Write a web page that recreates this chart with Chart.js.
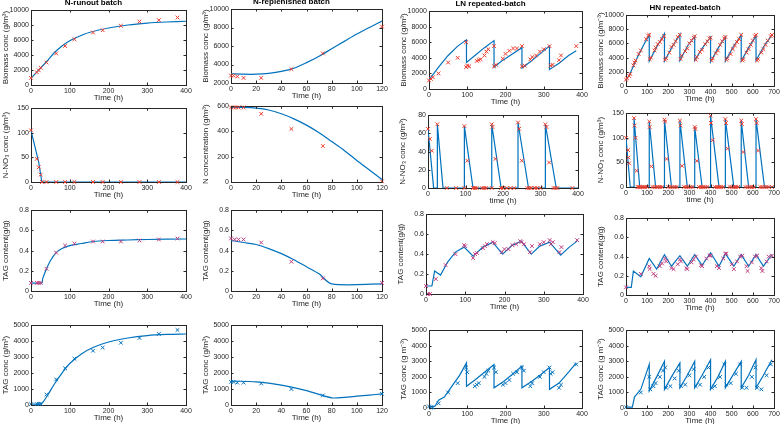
<!DOCTYPE html>
<html>
<head>
<meta charset="utf-8">
<script src="https://cdn.jsdelivr.net/npm/chart.js@4"></script>
<style>
  body { margin: 0; background: #fff; width: 784px; height: 424px; position: relative; overflow: hidden; }
  canvas { position: absolute; }
</style>
</head>
<body>
<script>
// ---- N-runout batch ----
const runoutBiomassModel = [[0,900],[20,2000],[40,3100],[60,4300],[80,5200],[100,5900],[120,6400],[150,7000],[200,7600],[250,8000],[300,8250],[350,8400],[400,8500]];
const runoutBiomassObs = [[0,950],[15,1700],[20,1950],[25,2300],[40,3000],[65,4200],[88,5200],[112,6100],[160,7000],[185,7300],[232,7900],[280,8450],[330,8650],[378,9000]];
const runoutNitrateModel = [[0,105],[20,40],[28,0],[400,0]];
const runoutNitrateObs = [[0,105],[15,47],[20,30],[25,15],[28,0],[40,0],[65,0],[88,0],[112,0],[160,0],[185,0],[232,0],[280,0],[330,0],[378,0]];
const runoutTagContentModel = [[0,0.08],[28,0.08],[30,0.12],[40,0.22],[50,0.3],[65,0.38],[80,0.42],[100,0.45],[130,0.47],[160,0.49],[200,0.5],[250,0.505],[300,0.51],[400,0.515]];
const runoutTagContentObs = [[0,0.08],[15,0.08],[20,0.08],[25,0.08],[40,0.22],[65,0.38],[88,0.45],[112,0.47],[160,0.49],[185,0.49],[232,0.49],[280,0.5],[330,0.51],[378,0.52]];
const runoutTagConcModel = [[0,50],[25,60],[30,150],[40,500],[60,1300],[80,2000],[100,2600],[130,3200],[160,3600],[200,3950],[250,4200],[300,4350],[350,4420],[400,4450]];
const runoutTagConcObs = [[0,50],[15,60],[20,70],[25,80],[40,650],[65,1600],[88,2300],[112,2900],[160,3400],[185,3600],[232,3900],[280,4200],[330,4450],[378,4700]];

// ---- N-replenished batch ----
const replBiomassModel = [[0,3000],[10,2950],[20,2950],[30,3050],[40,3250],[50,3600],[60,4200],[70,4900],[80,5700],[90,6500],[100,7300],[110,8000],[120,8700]];
const replBiomassObs = [[0,2800],[2,2800],[5,2700],[10,2550],[24,2550],[48,3500],[73,5200],[120,8100]];
const replNitrogenModel = [[0,590],[10,590],[20,585],[30,570],[40,540],[50,500],[60,450],[70,390],[80,320],[90,250],[100,170],[110,95],[120,20]];
const replNitrogenObs = [[0,590],[2,590],[4,590],[6,590],[10,590],[24,540],[48,420],[73,285],[120,5]];
const replTagContentModel = [[0,0.5],[10,0.48],[20,0.46],[30,0.42],[40,0.37],[50,0.31],[60,0.24],[70,0.17],[80,0.07],[120,0.07]];
const replTagContentObs = [[0,0.52],[3,0.51],[6,0.51],[10,0.51],[24,0.48],[48,0.29],[73,0.125],[120,0.08]];
const replTagConcModel = [[0,1500],[20,1450],[40,1250],[60,900],[80,450],[90,480],[100,550],[110,620],[120,700]];
const replTagConcObs = [[0,1450],[2,1450],[5,1400],[10,1400],[24,1350],[48,1000],[73,600],[120,700]];

// ---- LN repeated-batch ----
const lnBiomassModel = [[0,1200],[25,2800],[50,4300],[75,5500],[98,6300],[98,3400],[120,4300],[145,5300],[170,6200],[170,2800],[190,3600],[215,4400],[243,5300],[243,2700],[265,3500],[290,4500],[315,5500],[315,2500],[340,3300],[365,4300],[385,4900]];
const lnBiomassObs = [[0,1100],[5,1300],[10,1500],[25,2000],[50,3400],[75,4000],[97,6000],[97,2800],[100,3000],[105,2900],[125,3600],[130,3700],[135,3800],[145,4300],[150,4800],[155,5100],[170,5500],[170,2900],[175,3100],[193,3900],[200,4500],[210,4900],[220,5200],[230,5200],[243,5500],[243,2900],[250,3000],[265,3800],[270,4100],[280,4300],[290,4800],[300,5100],[315,5500],[318,3000],[323,3100],[340,3700],[345,4300],[385,5500]];
const lnNitrateModel = [[0,65],[15,0],[25,0],[25,70],[40,0],[97,0],[97,68],[120,0],[170,0],[170,70],[195,0],[240,0],[240,72],[268,0],[313,0],[313,70],[342,0],[400,0]];
const lnNitrateObs = [[0,65],[5,54],[10,41],[25,70],[50,0],[75,0],[97,68],[97,0],[105,30],[120,0],[125,0],[130,0],[145,0],[150,0],[155,0],[170,70],[172,67],[170,0],[180,32],[195,0],[200,0],[210,0],[220,0],[230,0],[240,72],[243,65],[250,30],[265,0],[270,0],[275,0],[285,0],[290,0],[300,0],[313,70],[316,67],[323,28],[335,0],[340,0],[345,0],[385,0]];
const lnTagContentModel = [[0,0.08],[15,0.08],[22,0.23],[37,0.19],[55,0.32],[75,0.42],[97,0.47],[120,0.38],[145,0.47],[170,0.52],[195,0.4],[220,0.49],[243,0.53],[268,0.4],[290,0.48],[315,0.52],[343,0.39],[365,0.47],[385,0.53]];
const lnTagContentObs = [[0,0.08],[5,0],[10,0],[25,0.15],[50,0.29],[75,0.4],[97,0.49],[100,0.48],[120,0.36],[125,0.4],[130,0.41],[145,0.46],[150,0.48],[155,0.5],[170,0.52],[175,0.51],[193,0.42],[200,0.45],[210,0.45],[220,0.49],[230,0.5],[240,0.53],[243,0.52],[250,0.5],[265,0.42],[270,0.48],[290,0.5],[300,0.52],[315,0.54],[318,0.5],[323,0.52],[340,0.42],[345,0.47],[385,0.54]];
const lnTagConcModel = [[0,100],[15,100],[25,500],[40,700],[60,1400],[80,2100],[98,2900],[98,1400],[120,1800],[145,2300],[170,2800],[170,1300],[195,1700],[220,2200],[243,2700],[243,1300],[268,1700],[290,2100],[315,2600],[315,1200],[340,1600],[365,2300],[385,2900]];
const lnTagConcObs = [[0,100],[5,30],[10,30],[25,300],[50,1000],[75,1600],[97,2600],[100,2300],[120,1400],[125,1500],[130,1600],[145,2000],[150,2200],[155,2400],[170,2600],[175,2300],[193,1500],[200,1600],[210,1800],[220,2200],[230,2300],[243,2600],[248,2400],[265,1400],[270,1600],[290,2000],[300,2300],[315,2600],[318,2200],[323,2300],[340,1300],[345,1500],[385,2800]];

// ---- HN repeated-batch ----
const hnBiomassModel = [[0,800],[20,1800],[50,3800],[80,5600],[110,7200],[110,3500],[145,5500],[182,7400],[182,3500],[220,5600],[255,7300],[255,3600],[290,5600],[325,7000],[325,3600],[360,5300],[400,6900],[400,3400],[435,5300],[470,6900],[470,3500],[505,5400],[545,7200],[545,3500],[580,5400],[615,7100],[615,3600],[650,5500],[690,7200]];
const hnBiomassObs = [[0,900],[5,1100],[15,1400],[20,1700],[35,2900],[40,3300],[45,3600],[60,4500],[70,5000],[95,6600],[105,7100],[110,7200],
  [112,3800],[118,4000],[135,5000],[140,5400],[150,5900],[160,6200],[170,6600],[180,7000],
  [185,3700],[190,3900],[205,4700],[215,5500],[225,5800],[235,6300],[245,6900],[255,7200],
  [258,3800],[263,4300],[280,4900],[290,5300],[300,6000],[310,6400],[320,6800],[325,7000],
  [330,3700],[335,4100],[350,4800],[360,5100],[375,5900],[385,6300],[395,6700],[400,6800],
  [405,3600],[410,3900],[425,4600],[435,5000],[445,5800],[455,6300],[465,6700],[470,6900],
  [475,3700],[480,3900],[495,4500],[505,5200],[515,5700],[525,6200],[535,6600],[545,7200],
  [550,3600],[555,3800],[570,4700],[580,5200],[590,5800],[600,6400],[610,7000],[615,7200],
  [620,3600],[625,3800],[640,4700],[650,5200],[660,5800],[670,6400],[685,7000],[690,7200]];
const hnNitrateModel = [[0,100],[20,0],[38,0],[38,140],[65,0],[110,0],[110,133],[140,0],[182,0],[182,137],[215,0],[255,0],[255,135],[290,0],[325,0],[325,122],[360,0],[400,0],[400,145],[440,0],[470,0],[470,138],[510,0],[545,0],[545,135],[580,0],[615,0],[615,138],[655,0],[700,0]];
const hnNitrateObs = [[0,100],[10,75],[12,60],[15,48],[38,140],[40,125],[45,100],[50,33],[55,0],[60,0],[65,0],[70,0],[80,0],[90,0],[100,0],
  [110,133],[112,122],[120,42],[125,0],[135,0],[145,0],[150,0],[160,0],[170,0],
  [182,137],[185,133],[192,57],[200,0],[210,0],[220,0],[230,0],[240,0],
  [255,135],[258,125],[265,43],[275,0],[285,0],[295,0],[305,0],[315,0],
  [325,122],[328,118],[335,53],[345,0],[355,0],[365,0],[375,0],[385,0],
  [400,145],[402,130],[410,95],[420,0],[430,0],[440,0],[450,0],[460,0],
  [470,138],[473,130],[480,78],[490,0],[500,0],[510,0],[520,0],[530,0],
  [545,135],[548,128],[555,71],[565,0],[575,0],[585,0],[595,0],[605,0],
  [615,138],[618,130],[625,74],[635,0],[645,0],[655,0],[665,0],[675,0],[690,0]];
const hnTagContentModel = [[0,0.08],[25,0.08],[35,0.25],[70,0.19],[110,0.38],[145,0.27],[182,0.42],[215,0.3],[255,0.41],[290,0.3],[325,0.42],[360,0.31],[400,0.44],[440,0.3],[470,0.43],[510,0.3],[545,0.42],[580,0.3],[615,0.42],[650,0.3],[690,0.42]];
const hnTagContentObs = [[0,0.08],[70,0.22],[110,0.3],[112,0.27],[130,0.22],[140,0.2],[160,0.3],[170,0.33],[185,0.38],[190,0.35],[215,0.28],[225,0.27],[245,0.32],[255,0.37],[260,0.35],[285,0.28],[290,0.27],[310,0.34],[320,0.37],[330,0.4],[355,0.31],[360,0.3],[380,0.38],[395,0.41],[400,0.41],[430,0.3],[440,0.28],[460,0.38],[470,0.43],[475,0.43],[500,0.32],[510,0.27],[525,0.35],[540,0.4],[550,0.41],[570,0.3],[575,0.25],[595,0.34],[610,0.4],[620,0.41],[640,0.28],[645,0.25],[665,0.35],[675,0.4],[690,0.41]];
const hnTagConcModel = [[0,50],[30,50],[40,700],[70,1200],[110,2800],[110,1100],[145,2000],[182,3000],[182,1200],[215,2000],[255,2900],[255,1300],[290,2100],[325,3000],[325,1300],[360,2100],[400,3100],[400,1200],[435,2000],[470,3000],[470,1300],[505,2100],[545,3000],[545,1300],[580,2100],[615,3100],[615,1300],[650,2100],[690,3100]];
const hnTagConcObs = [[0,50],[70,1000],[110,2000],[115,1200],[130,1400],[140,1600],[160,2000],[175,2400],[185,2600],[190,1300],[210,1400],[230,1900],[250,2400],[260,1400],[280,1500],[300,2100],[320,2500],[330,1400],[350,1500],[370,2000],[390,2600],[405,1300],[420,1400],[445,2000],[465,2800],[475,1500],[495,1600],[520,2200],[540,2800],[550,1300],[570,1300],[595,2000],[612,2600],[620,1300],[640,1200],[665,2100],[685,2800]];

const BLUE = 'rgb(0,114,189)';
const RED = 'rgb(235,60,45)';
const PINK = 'rgb(190,60,125)';
const AXIS = '#262626';
const FONT = 'Liberation Sans, Arial, sans-serif';

const YW = 30, XH = 18, PR = 10, PB = 1;

// panel rect = [left, top, right, bottom] of the plot box
const panels = [
  { rect: [31,10,186,85],   title: 'N-runout batch',      x: [400,100], y: [0,10000,2000], yl: 'Biomass conc (g/m³)', xl: 'Time (h)', model: runoutBiomassModel, obs: runoutBiomassObs, mc: RED, tension: 0.3 },
  { rect: [231,9,382,83],   title: 'N-replenished batch', x: [120,20],  y: [2000,10000,2000], yl: 'Biomass conc (g/m³)', xl: 'Time (h)', model: replBiomassModel, obs: replBiomassObs, mc: RED, tension: 0.3 },
  { rect: [429,11,582,89],  title: 'LN repeated-batch',   x: [400,100], y: [0,10000,2000], yl: 'Biomass conc (g/m³)', xl: 'Time (h)', model: lnBiomassModel, obs: lnBiomassObs, mc: RED, tension: 0 },
  { rect: [626,15,774,86],  title: 'HN repeated-batch',   x: [700,100], y: [0,10000,2000], yl: 'Biomass conc (g/m⁻³)', xl: 'Time (h)', model: hnBiomassModel, obs: hnBiomassObs, mc: RED, tension: 0 },

  { rect: [31,108,186,182],  x: [400,100], y: [0,150,50],  yl: 'N-NO₃ conc (g/m³)', xl: 'Time (h)', model: runoutNitrateModel, obs: runoutNitrateObs, mc: RED, tension: 0 },
  { rect: [231,106,382,182], x: [120,20],  y: [0,600,200], yl: 'N concentration (g/m³)', xl: 'Time (h)', model: replNitrogenModel, obs: replNitrogenObs, mc: RED, tension: 0.3 },
  { rect: [428,115,578,188], x: [400,100], y: [0,80,20],   yl: 'N-NO₃ conc (g/m³)', xl: 'time (h)', model: lnNitrateModel, obs: lnNitrateObs, mc: RED, tension: 0 },
  { rect: [626,113,774,187], x: [700,100], y: [0,150,50],  yl: 'N-NO₃ conc (g/m³)', xl: 'time (h)', model: hnNitrateModel, obs: hnNitrateObs, mc: RED, tension: 0 },

  { rect: [31,210,186,291],  x: [400,100], y: [0,0.8,0.2], yl: 'TAG content(g/g)', xl: 'Time (h)', model: runoutTagContentModel, obs: runoutTagContentObs, mc: PINK, tension: 0.3 },
  { rect: [231,210,382,291], x: [120,20],  y: [0,0.8,0.2], yl: 'TAG content(g/g)', xl: 'Time (h)', model: replTagContentModel, obs: replTagContentObs, mc: PINK, tension: 0.3 },
  { rect: [426,214,583,294], x: [400,100], y: [0,0.8,0.2], yl: 'TAG content(g/g)', xl: 'Time (h)', model: lnTagContentModel, obs: lnTagContentObs, mc: PINK, tension: 0 },
  { rect: [626,218,774,295], x: [700,100], y: [0,0.8,0.2], yl: 'TAG content(g/g)', xl: 'Time (h)', model: hnTagContentModel, obs: hnTagContentObs, mc: PINK, tension: 0 },

  { rect: [31,325,186,405],  x: [400,100], y: [0,5000,1000], yl: 'TAG conc (g/m³)', xl: 'Time (h)', model: runoutTagConcModel, obs: runoutTagConcObs, mc: BLUE, tension: 0.3 },
  { rect: [231,325,382,405], x: [120,20],  y: [0,5000,1000], yl: 'TAG conc (g/m³)', xl: 'Time (h)', model: replTagConcModel, obs: replTagConcObs, mc: BLUE, tension: 0.3 },
  { rect: [429,330,582,408], x: [400,100], y: [0,5000,1000], yl: 'TAG conc (g m⁻³)', xl: 'Time (h)', model: lnTagConcModel, obs: lnTagConcObs, mc: BLUE, tension: 0 },
  { rect: [626,330,774,408], x: [700,100], y: [0,5000,1000], yl: 'TAG conc (g m⁻³)', xl: 'Time (h)', model: hnTagConcModel, obs: hnTagConcObs, mc: BLUE, tension: 0 }
];

const toXY = arr => arr.map(p => ({ x: p[0], y: p[1] }));

// small inward tick marks on all four sides (MATLAB look)
const inwardTicks = {
  id: 'inwardTicks',
  afterDraw(chart) {
    const ctx = chart.ctx;
    const a = chart.chartArea;
    const sx = chart.scales.x, sy = chart.scales.y;
    const tl = 2.5;
    ctx.save();
    ctx.strokeStyle = AXIS;
    ctx.lineWidth = 1;
    ctx.beginPath();
    sx.ticks.forEach(t => {
      const px = Math.round(sx.getPixelForValue(t.value)) + 0.5;
      ctx.moveTo(px, a.bottom); ctx.lineTo(px, a.bottom - tl);
      ctx.moveTo(px, a.top); ctx.lineTo(px, a.top + tl);
    });
    sy.ticks.forEach(t => {
      const py = Math.round(sy.getPixelForValue(t.value)) + 0.5;
      ctx.moveTo(a.left, py); ctx.lineTo(a.left + tl, py);
      ctx.moveTo(a.right, py); ctx.lineTo(a.right - tl, py);
    });
    ctx.stroke();
    ctx.restore();
  }
};

const edgeAxis = (pos, min, max) => ({
  type: 'linear',
  position: pos,
  min: min,
  max: max,
  grid: { display: false, drawTicks: false },
  border: { display: true, color: AXIS, width: 1 },
  ticks: { display: false },
  afterFit: s => { if (pos === 'top') s.height = 0; else s.width = 0; }
});

panels.forEach(p => {
  const [l, t, r, b] = p.rect;
  const topPad = p.title ? 14 : 6;
  const canvas = document.createElement('canvas');
  canvas.width = YW + (r - l) + PR;
  canvas.height = topPad + (b - t) + XH + PB;
  canvas.style.left = (l - YW) + 'px';
  canvas.style.top = (t - topPad) + 'px';
  document.body.appendChild(canvas);

  new Chart(canvas.getContext('2d'), {
    type: 'line',
    data: {
      datasets: [
        {
          type: 'scatter',
          data: toXY(p.obs),
          pointStyle: 'crossRot',
          pointRadius: 2.6,
          borderColor: p.mc,
          backgroundColor: p.mc,
          borderWidth: 1,
          showLine: false,
          clip: false
        },
        {
          data: toXY(p.model),
          borderColor: BLUE,
          borderWidth: 1.2,
          pointRadius: 0,
          tension: p.tension,
          fill: false
        }
      ]
    },
    options: {
      responsive: false,
      devicePixelRatio: 1,
      animation: false,
      layout: { padding: { top: p.title ? 0 : 6, right: PR, bottom: PB, left: 0 } },
      plugins: {
        legend: { display: false },
        tooltip: { enabled: false },
        title: {
          display: !!p.title,
          text: p.title || '',
          color: '#000',
          font: { family: FONT, size: 8, weight: 'bold' },
          padding: { top: 2, bottom: 2.4 }
        }
      },
      scales: {
        x: {
          type: 'linear',
          min: 0,
          max: p.x[0],
          grid: { display: false, drawTicks: false },
          border: { display: true, color: AXIS, width: 1 },
          ticks: {
            stepSize: p.x[1],
            color: AXIS,
            padding: 2,
            maxRotation: 0,
            font: { family: FONT, size: 7 },
            callback: v => String(v)
          },
          title: {
            display: true,
            text: p.xl,
            color: AXIS,
            padding: 0,
            font: { family: FONT, size: 8 }
          },
          afterFit: s => { s.height = XH; }
        },
        y: {
          min: p.y[0],
          max: p.y[1],
          grid: { display: false, drawTicks: false },
          border: { display: true, color: AXIS, width: 1 },
          ticks: {
            stepSize: p.y[2],
            color: AXIS,
            padding: 2,
            font: { family: FONT, size: 7 },
            callback: v => String(+v.toFixed(2))
          },
          title: {
            display: true,
            text: p.yl,
            color: AXIS,
            padding: 0,
            font: { family: FONT, size: 8 }
          },
          afterFit: s => { s.width = YW; }
        },
        xTop: edgeAxis('top', 0, p.x[0]),
        yRight: edgeAxis('right', p.y[0], p.y[1])
      }
    },
    plugins: [inwardTicks]
  });
});
</script>
</body>
</html>
